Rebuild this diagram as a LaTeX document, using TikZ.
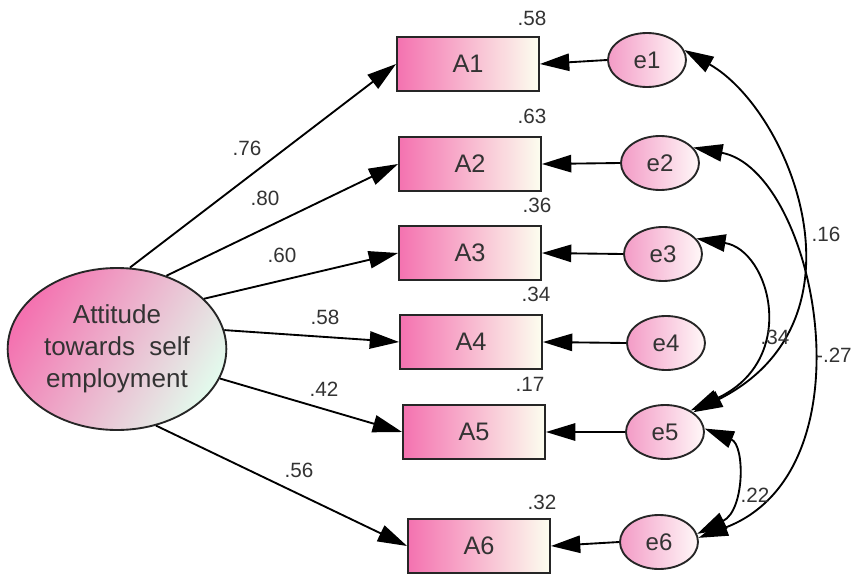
\documentclass[tikz,border=0pt]{standalone}
\usepackage{fontspec}
\setmainfont{Liberation Sans}
\usetikzlibrary{arrows.meta,shapes.geometric}
\definecolor{pk}{HTML}{F472B0}
\definecolor{pkmid}{HTML}{FBE3EC}
\definecolor{pkF}{HTML}{F8CFE1}
\definecolor{cr}{HTML}{FCFEEF}
\definecolor{pkerr}{HTML}{F39BC6}
\definecolor{wherr}{HTML}{FFF8F8}
\definecolor{mint}{HTML}{E3F9EC}
\definecolor{txt}{HTML}{333333}
\begin{document}
\begin{tikzpicture}[x=0.75pt,y=-0.75pt,
  lat/.style={ellipse, draw=black!85, line width=1.4pt, minimum width=164pt, minimum height=121.5pt,
    inner sep=0pt, align=center, font=\fontsize{19.5}{24}\selectfont, text=txt,
    left color=pk, middle color=pkF, right color=mint, shading angle=60},
  obs/.style={rectangle, draw=black!85, line width=1.4pt, minimum width=106.5pt, minimum height=40.5pt,
    inner sep=0pt, font=\fontsize{19}{22}\selectfont, text=txt,
    left color=pk, middle color=pkmid, right color=cr},
  err/.style={ellipse, draw=black!85, line width=1.4pt, minimum width=58.5pt, minimum height=40.5pt,
    inner sep=0pt, font=\fontsize{18}{21}\selectfont, text=txt,
    left color=pkerr, right color=wherr},
  lbl/.style={font=\fontsize{15.5}{18}\selectfont, text=txt, inner sep=0pt},
  tip/.tip={Triangle[length=22pt,width=13pt]},
  arr/.style={-tip, line width=1.4pt},
  cov/.style={tip-tip, line width=1.4pt}]
\useasboundingbox (0,0) rectangle (854,575);
\fill[white] (0,0) rectangle (854,575);

% latent
\node[lat] (F) at (117,349) {Attitude\\towards~ self\\employment};

% observed
\node[obs] (A1) at (468,64) {A1};
\node[obs] (A2) at (470,164) {A2};
\node[obs] (A3) at (470,253) {A3};
\node[obs] (A4) at (471,342) {A4};
\node[obs] (A5) at (474,432) {A5};
\node[obs] (A6) at (479,546) {A6};

% errors
\node[err] (e1) at (647,60) {e1};
\node[err] (e2) at (660,163) {e2};
\node[err] (e3) at (663,254) {e3};
\node[err] (e4) at (666,343) {e4};
\node[err] (e5) at (665,432) {e5};
\node[err] (e6) at (659,542) {e6};

% loadings
\draw[arr] (F.81) -- (A1.west);
\draw[arr] (F.56) -- (A2.west);
\draw[arr] (F.30) -- (A3.west);
\draw[arr] (F.10) -- (A4.west);
\draw[arr] (F.-16) -- (A5.west);
\draw[arr] (F.-63) -- (A6.west);

% error arrows
\foreach \i in {1,...,6} {\draw[arr] (e\i.west) -- (A\i.east);}

% covariances
\draw[cov] (e1.15) .. controls (790,110) and (875,320) .. (e5.35);
\draw[cov] (e2.25) .. controls (815,170) and (876,470) .. (e6.6);
\draw[cov] (e3.25) .. controls (770,250) and (800,360) .. (e5.40);
\draw[cov] (e5.5) .. controls (745,445) and (745,510) .. (e6.12);

% loading labels
\node[lbl] (l1) at (247,148) {.76};
\node[lbl] (l2) at (265,198) {.80};
\node[lbl] (l3) at (282,255) {.60};
\node[lbl] (l4) at (325,317) {.58};
\node[lbl] (l5) at (324,389) {.42};
\node[lbl] (l6) at (299,470) {.56};

% R2 labels
\node[lbl] (r1) at (532,18) {.58};
\node[lbl] (r2) at (532,116) {.63};
\node[lbl] (r3) at (537,205) {.36};
\node[lbl] (r4) at (536,294) {.34};
\node[lbl] (r5) at (530,384) {.17};
\node[lbl] (r6) at (542,502) {.32};

% covariance labels
\node[lbl] (c1) at (826,234) {.16};
\node[lbl] (c2) at (775,337) {.34};
\node[lbl, anchor=east] (c3) at (852,355) {-.27};
\node[lbl] (c4) at (755,495) {.22};
\end{tikzpicture}
\end{document}
